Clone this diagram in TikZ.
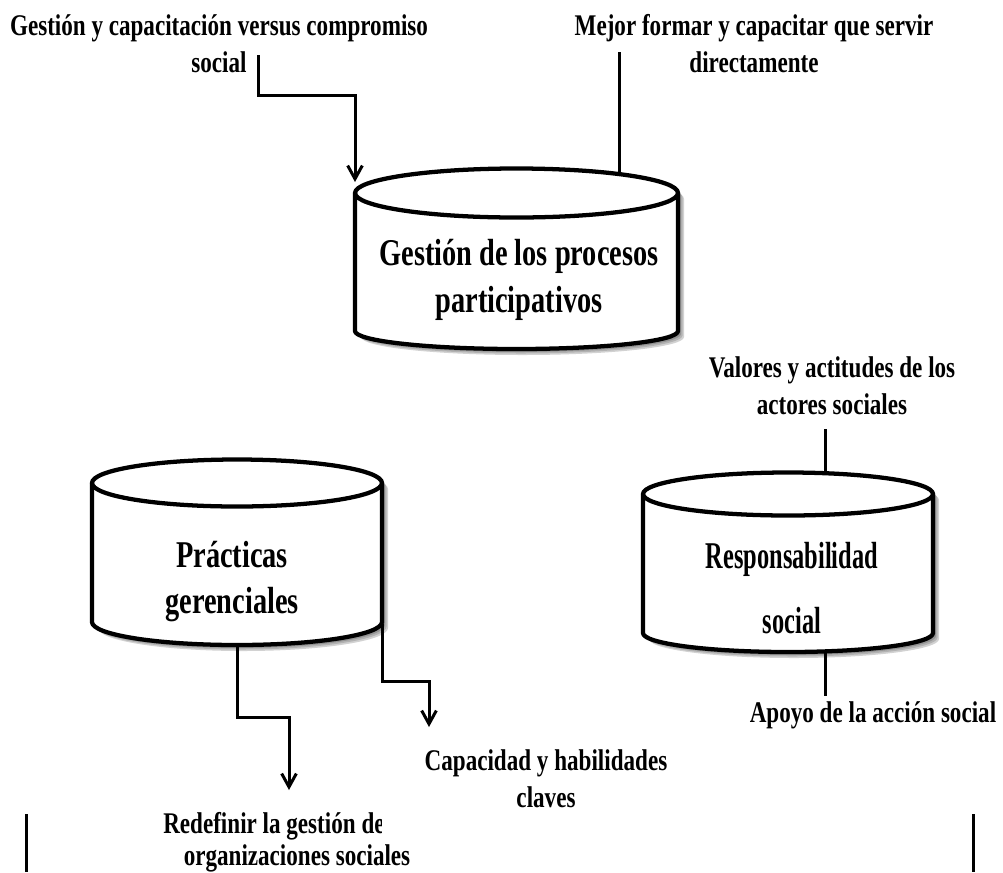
\documentclass[tikz,border=0pt]{standalone}
\usepackage{fontspec}
\usetikzlibrary{arrows.meta}
\newfontfamily\labf{Liberation Serif}[FakeStretch=0.77]
\newfontfamily\cylf{Liberation Serif}[FakeStretch=0.75]
\newfontfamily\cylg{Liberation Serif}[FakeStretch=0.645]
\newcommand\tcol[1]{\begin{tabular}[t]{@{}c@{}}#1\end{tabular}}
% L, R, top-centre y, side-bottom y, top ry, bottom ry
\newcommand\mycyl[6]{%
  \pgfmathsetmacro\cylrx{(#2-#1)/2}%
  \foreach \sh/\sco in {6/gray!35, 4.5/gray!60, 3/gray!85}{%
    \fill[\sco, shift={(\sh,\sh)}] (#1,#3) -- (#1,#4)
      arc[start angle=180, end angle=0, x radius=\cylrx, y radius=#6] -- (#2,#3)
      arc[start angle=0, end angle=-180, x radius=\cylrx, y radius=#5] -- cycle;}
  \draw[cylline] (#1,#3) -- (#1,#4)
      arc[start angle=180, end angle=0, x radius=\cylrx, y radius=#6] -- (#2,#3)
      arc[start angle=0, end angle=-180, x radius=\cylrx, y radius=#5] -- cycle;
  \draw[cylline, fill=none] (#1,#3)
      arc[start angle=180, end angle=0, x radius=\cylrx, y radius=#5];
}
\begin{document}
\begin{tikzpicture}[x=0.75pt, y=-0.75pt,
  conn/.style={line width=2.25pt},
  arr/.style={conn, -{Straight Barb[length=10pt, width=11pt]}},
  cylline/.style={line width=3.2pt, fill=white, line join=round},
  cylbox/.style={rectangle, inner sep=0pt},
  lab/.style={font=\labf\bfseries\fontsize{22.5}{27.75}\selectfont, inner sep=0pt, anchor=base},
  ctext/.style={font=\cylf\bfseries\fontsize{28.35}{35.25}\selectfont, inner sep=0pt, anchor=base},
  rtext/.style={font=\cylg\bfseries\fontsize{28.35}{48.75}\selectfont, inner sep=0pt, anchor=base}]
\useasboundingbox (0,0) rectangle (1003,872);
\fill[white] (0,0) rectangle (1003,872);

% cylinders
\mycyl{355}{678}{193}{331}{24.5}{18}
\node[cylbox, minimum width=242.25pt, minimum height=135.4pt] (gp) at (516.5,258.75) {};
\mycyl{92}{382}{483}{622}{23.5}{23}
\node[cylbox, minimum width=217.5pt, minimum height=139.1pt] (pg) at (237,552.25) {};
\mycyl{643}{933}{494}{633}{21.5}{19}
\node[cylbox, minimum width=217.5pt, minimum height=134.6pt] (rs) at (788,562.25) {};

% texts inside cylinders
\node[ctext] (gpt) at (519,265) {\tcol{Gestión de los procesos\\participativos}};
\node[ctext, font=\cylf\bfseries\fontsize{28.35}{34.5}\selectfont] (pgt) at (232,567) {\tcol{Prácticas\\gerenciales}};
\node[rtext] (rst) at (792,568) {\tcol{Responsabilidad\\social}};

% labels
\node[lab] (l1) at (219,35) {\tcol{Gestión y capacitación versus compromiso\\social}};
\node[lab] (l2) at (754,35) {\tcol{Mejor formar y capacitar que servir\\directamente}};
\node[lab] (l3) at (832,377) {\tcol{Valores y actitudes de los\\actores sociales}};
\node[lab] (l4) at (546,770) {\tcol{Capacidad y habilidades\\claves}};
\node[lab] (l5) at (873,722) {Apoyo de la acción social};
\begin{scope}
  \clip (150,800) rectangle (381,850);
  \node[lab, anchor=base west] (l6) at (163,833) {Redefinir la gestión de las};
\end{scope}
\node[lab] (l7) at (297,865) {organizaciones sociales};

% connector ends
\coordinate (a1) at (258,55);
\coordinate (t1) at (355,182);
\coordinate (a2) at (619,52);
\coordinate (e2) at (619,175.5);
\coordinate (s4) at (382,624);
\coordinate (t3) at (289,790);
\coordinate (t4) at (429,727);
\coordinate (a5) at (825,429);
\coordinate (e5) at (825,474);
\coordinate (b6) at (825,651);
\coordinate (f6) at (825,696);

% connectors
\draw[arr] (a1) -- ++(0,40) -| (t1);
\draw[conn] (a2) -- (e2);
\draw[arr] (pg.south) -- ++(0,72) -| (t3);
\draw[arr] (s4) -- ++(0,57) -| (t4);
\draw[conn] (a5) -- (e5);
\draw[conn] (b6) -- (f6);

% vertical rules at the bottom
\draw[conn] (26,814) -- (26,872);
\draw[conn] (973,814) -- (973,872);
\end{tikzpicture}
\end{document}
